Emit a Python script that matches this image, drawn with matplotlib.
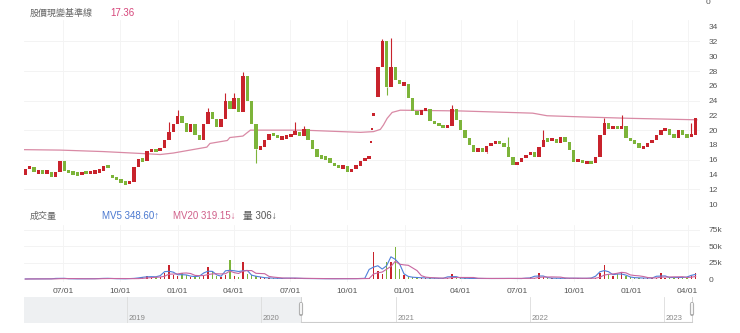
import matplotlib
matplotlib.use("Agg")
import matplotlib.pyplot as plt
import matplotlib.dates as mdates
import numpy as np
import pandas as pd

plt.rcParams['font.family'] = ['Liberation Sans', 'Noto Sans CJK TC', 'DejaVu Sans']

# weekly bars (Friday close)
dates = pd.date_range('2020-05-01', periods=155, freq='W-FRI')
first_open = 13.9
close = [
    14.8, 15.0, 14.3, 14.4, 14.3, 14.4, 13.6, 14.3, 15.8, 14.5,
    14.3, 14.1, 14.0, 14.3, 14.2, 14.3, 14.4, 14.5, 15.1, 15.0,
    13.6, 13.3, 12.9, 12.8, 13.0, 15.0, 16.1, 15.8, 17.2, 17.3,
    17.2, 17.6, 18.6, 19.8, 20.8, 21.9, 20.9, 19.8, 20.8, 19.3,
    18.6, 20.8, 22.5, 21.5, 20.4, 21.5, 23.9, 22.9, 24.3, 22.5,
    27.3, 24.0, 20.8, 17.5, 17.7, 18.7, 19.5, 19.4, 18.9, 19.0,
    19.1, 19.4, 19.8, 19.2, 20.2, 18.7, 17.5, 16.4, 16.3, 16.2,
    15.5, 15.2, 14.9, 15.1, 14.3, 14.8, 15.2, 15.8, 16.2, 16.4,
    22.2, 28.5, 32.0, 25.8, 28.5, 26.8, 26.2, 26.3, 24.4, 22.6,
    22.1, 22.7, 22.9, 21.2, 20.9, 20.7, 20.3, 20.6, 22.9, 21.4,
    20.0, 19.0, 18.0, 17.1, 17.6, 17.1, 17.9, 18.2, 18.4, 18.3,
    17.7, 16.3, 15.3, 15.7, 16.2, 16.7, 17.0, 16.4, 17.7, 18.7,
    18.6, 18.8, 18.3, 19.1, 18.4, 17.3, 15.7, 16.0, 15.6, 15.7,
    15.6, 16.3, 19.3, 21.0, 20.2, 20.6, 20.1, 20.6, 18.9, 18.5,
    18.3, 17.6, 17.7, 18.3, 18.6, 19.4, 20.0, 20.2, 19.4, 19.0,
    20.0, 19.3, 19.1, 19.4, 21.6,
]
# weeks that opened on a gap instead of at the prior close
gap_open = {'2020-09-18': 13.8, '2021-11-12': 22.0, '2021-11-19': 24.5}
# one-price (limit-up) sessions before the breakout
flat_days = ['2021-11-08', '2021-11-09']
flat_prices = [18.4, 20.2]

volume = [
    306, 800, 600, 700, 500, 600, 900, 700, 2500, 1200,
    800, 700, 600, 700, 900, 800, 1000, 900, 1800, 1500,
    1200, 900, 800, 700, 900, 1500, 1800, 3000, 4500, 4000,
    3500, 4000, 9000, 21700, 6000, 5000, 10000, 6000, 4000, 4500,
    4000, 6000, 19000, 12000, 5000, 3000, 6000, 30000, 5000, 4000,
    26700, 8000, 6000, 5000, 3000, 2500, 2000, 1800, 1500, 1500,
    1200, 2500, 1500, 1200, 1500, 1000, 900, 1100, 800, 900,
    1000, 800, 900, 1000, 1100, 900, 1000, 1200, 1500, 1800,
    41800, 12000, 8000, 26700, 27000, 49000, 15000, 6000, 4000, 3000,
    2500, 2500, 2000, 1800, 1500, 1500, 1400, 1600, 8000, 2500,
    1800, 1500, 1400, 1200, 1300, 1200, 1300, 1200, 1100, 1200,
    1500, 1300, 1200, 1200, 1100, 1200, 3000, 2000, 9000, 4000,
    2000, 1800, 1600, 1500, 1500, 1800, 1600, 1500, 1400, 1500,
    1600, 2500, 10000, 21700, 8000, 5000, 8000, 11000, 5000, 3000,
    2500, 2000, 2000, 1800, 2000, 2000, 10000, 2500, 3000, 2500,
    3000, 2500, 3000, 5000, 10000,
]
# intraweek extremes that stick out of the bodies
wick_high = {'2020-12-18': 21.1, '2021-01-01': 22.7, '2021-02-19': 23.0,
             '2021-03-19': 25.0, '2021-04-02': 25.0, '2021-04-16': 27.9,
             '2021-07-09': 21.1, '2021-07-23': 20.6, '2021-11-26': 32.4,
             '2021-12-10': 32.5, '2022-03-18': 23.4, '2022-06-17': 19.1,
             '2022-08-12': 20.0, '2022-11-18': 21.6, '2022-12-16': 22.1,
             '2023-04-07': 20.9}
wick_low = {'2021-05-07': 15.5, '2021-12-03': 24.7, '2022-05-13': 16.9}

base_dates = ['2020-04-29', '2020-06-26', '2020-09-03', '2020-11-13', '2020-12-04',
              '2020-12-25', '2021-01-21', '2021-02-17', '2021-02-22', '2021-03-22',
              '2021-03-26', '2021-04-16', '2021-04-28', '2021-07-22', '2021-10-22',
              '2021-11-12', '2021-11-23', '2021-11-28', '2021-12-04', '2021-12-12',
              '2021-12-25', '2022-03-31', '2022-07-26', '2022-08-18', '2022-10-10',
              '2022-12-29', '2023-04-16']
base_vals = [17.36, 17.3, 17.1, 16.8, 16.7, 16.9, 17.3, 17.7, 18.2, 18.6,
             19.0, 19.2, 20.0, 20.0, 19.7, 19.8, 20.1, 20.7, 21.6, 22.4,
             22.7, 22.6, 22.3, 21.95, 21.8, 21.6, 21.4]

year_marks = ['2019', '2020', '2021', '2022', '2023']
quarter_ticks = pd.date_range('2020-07-01', '2023-04-01', freq='QS')

UP, DOWN = '#c8232c', '#7db43a'
BASE = '#d98aa5'
GREY = '#666666'

W, H = 740, 333
def box(l, t, r, b):
    return [l / W, 1 - b / H, (r - l) / W, (b - t) / H]

fig = plt.figure(figsize=(7.4, 3.33), dpi=100)
ax = fig.add_axes(box(24, 20, 700, 210))
vax = fig.add_axes(box(24, 225, 700, 282), sharex=ax)
nav = fig.add_axes(box(24, 297, 697, 323))

close = np.array(close)
opens = pd.Series(np.concatenate([[first_open], close[:-1]]), index=dates)
for d, v in gap_open.items():
    opens[pd.Timestamp(d)] = v
opens = opens.to_numpy()
colors = np.where(close >= opens, UP, DOWN)
# thin weeks still get a visible block
lo_body = np.minimum(opens, close)
hi_body = np.maximum(opens, close)
mid = (lo_body + hi_body) / 2
span = np.maximum(hi_body - lo_body, 0.45)

ax.bar(dates, span, bottom=mid - span / 2, width=5.5, color=colors, linewidth=0, zorder=3)
for d, hi in wick_high.items():
    i = dates.get_loc(pd.Timestamp(d))
    ax.vlines(dates[i], hi_body[i], hi, color=colors[i], lw=0.8, zorder=3)
for d, lo in wick_low.items():
    i = dates.get_loc(pd.Timestamp(d))
    ax.vlines(dates[i], lo, lo_body[i], color=colors[i], lw=0.8, zorder=3)
ax.plot(pd.to_datetime(flat_days), flat_prices, 's', ms=1.6, color=UP, mew=0, zorder=3)

ax.plot(pd.to_datetime(base_dates), base_vals, color=BASE, lw=0.9, zorder=2)

xmin, xmax = pd.Timestamp('2020-04-29'), pd.Timestamp('2023-04-21')
ax.set_xlim(xmin, xmax)
ax.set_ylim(9.19, 34.91)
ax.set_yticks(range(10, 35, 2))
ax.yaxis.tick_right()
ax.tick_params(axis='y', length=0, pad=6, labelsize=6, labelcolor='#555555')
ax.tick_params(axis='x', length=0, labelbottom=False)
ax.set_xticks(quarter_ticks)
for y in range(12, 34, 4):
    ax.axhline(y, color='#f1f1f1', lw=0.6, zorder=0)
for t in quarter_ticks:
    ax.axvline(t, color='#f3f3f3', lw=0.6, zorder=0)
for s in ax.spines.values():
    s.set_visible(False)

# volume pane
vol = pd.Series(volume, dtype=float)
ma5 = vol.rolling(3, center=True, min_periods=1).mean()
ma20 = vol.rolling(6, min_periods=1).mean()
vax.bar(dates, volume, width=2.2, color=colors, linewidth=0, zorder=3)
vax.plot(dates, ma5, color='#4f7fd9', lw=0.8, zorder=4)
vax.plot(dates, ma20, color='#c866a0', lw=0.8, zorder=4)
vax.set_ylim(-4100, 82600)
vax.set_yticks([0, 25000, 50000, 75000])
vax.set_yticklabels(['0', '25k', '50k', '75k'])
vax.yaxis.tick_right()
vax.tick_params(axis='y', length=0, pad=6, labelsize=6, labelcolor='#555555')
vax.set_xticks(quarter_ticks)
vax.xaxis.set_major_formatter(mdates.DateFormatter('%m/%d'))
vax.tick_params(axis='x', length=0, pad=4, labelsize=6, labelcolor='#555555')
for y in [25000, 50000, 75000]:
    vax.axhline(y, color='#f1f1f1', lw=0.6, zorder=0)
for t in quarter_ticks:
    vax.axvline(t, color='#f3f3f3', lw=0.6, zorder=0)
for s in vax.spines.values():
    s.set_visible(False)
vax.set_xlim(xmin, xmax)

# navigator strip
nstart, nend = pd.Timestamp('2018-03-28'), pd.Timestamp('2023-03-31')
sel0, sel1 = pd.Timestamp('2020-04-18'), pd.Timestamp('2023-03-18')
nav.set_xlim(nstart, nend)
nav.set_ylim(0, 1)
nav.axvspan(nstart, sel0, color='#eef0f2', lw=0)
for yr in year_marks:
    t = pd.Timestamp(yr + '-01-01')
    nav.axvline(t, color='#dcdcdc', lw=0.6)
    nav.text(t + pd.Timedelta(days=4), 0.12, yr, fontsize=5.5, color='#888888')
nav.plot([sel0, sel1], [0.02, 0.02], color='#cccccc', lw=0.8)
for t in [sel0, sel1]:
    nav.plot([t, t], [0.02, 1], color='#cccccc', lw=0.6)
    nav.plot([t, t], [0.35, 0.75], color='#aaaaaa', lw=3.0, solid_capstyle='round')
    nav.plot([t, t], [0.38, 0.72], color='#f4f4f4', lw=1.6)
nav.set_xticks([])
nav.set_yticks([])
for s in nav.spines.values():
    s.set_visible(False)

# header labels
fig.text(30 / W, 1 - 13 / H, '股價現變基準線', fontsize=6.5, color=GREY, va='center')
fig.text(110 / W, 1 - 13 / H, '17.36', fontsize=7, color='#d6457a', va='center')
fig.text(706 / W, 1 - 3 / H, '0', fontsize=6, color='#555555', va='center')
fig.text(30 / W, 1 - 216 / H, '成交量', fontsize=6.5, color=GREY, va='center')
fig.text(102 / W, 1 - 216 / H, 'MV5 348.60↑', fontsize=7, color='#4a78d0', va='center')
fig.text(173 / W, 1 - 216 / H, 'MV20 319.15↓', fontsize=7, color='#d0608a', va='center')
fig.text(243 / W, 1 - 216 / H, '量 306↓', fontsize=7, color='#555555', va='center')

fig.savefig('out.png', dpi=100)
